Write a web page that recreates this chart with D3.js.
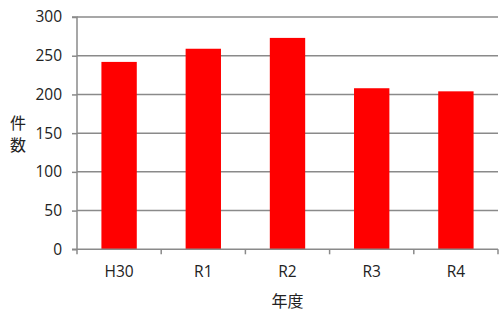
<!DOCTYPE html>
<html><head><meta charset="utf-8">
<script src="https://cdn.jsdelivr.net/npm/d3@7"></script>
<style>body{margin:0;background:#fff}svg{display:block}</style>
</head><body>
<script>
const categories = ["H30", "R1", "R2", "R3", "R4"];
const values = [242, 259, 273, 208, 204];
const yTicks = [0, 50, 100, 150, 200, 250, 300];
const yTitle = ["件", "数"];
const xTitle = "年度";

(function () {
const W = 499, H = 311;
const svg = d3.select("body").append("svg").attr("width", W).attr("height", H);
const mLeft = 77, mRight = 498, mTop = 17, mBottom = 249.3;
const x = d3.scaleBand().domain(categories).range([mLeft, mRight]).paddingInner(0.58).paddingOuter(0.29);
const xb = d3.scaleBand().domain(categories).range([mLeft, mRight]);
const y = d3.scaleLinear().domain([0, 300]).range([mBottom, mTop]);
const grey = "#8a8a8a";
const font = "'Open Sans', sans-serif";

// gridlines
svg.append("g").selectAll("line").data(yTicks.filter(d => d > 0)).join("line")
  .attr("x1", mLeft).attr("x2", mRight).attr("y1", d => y(d)).attr("y2", d => y(d))
  .attr("stroke", grey).attr("stroke-width", 1.5);

// bars
svg.append("g").selectAll("rect").data(values).join("rect")
  .attr("x", (d, i) => x(categories[i])).attr("width", x.bandwidth())
  .attr("y", d => y(d)).attr("height", d => y(0) - y(d)).attr("fill", "#ff0000");

// y axis
const ya = svg.append("g").attr("transform", `translate(${mLeft},0)`)
  .call(d3.axisLeft(y).tickValues(yTicks).tickSize(5).tickPadding(10));
ya.selectAll("path,line").attr("stroke", grey).attr("stroke-width", 1.5);
ya.select("path").attr("d", `M-5,${y(300)}H0V${y(0)}H-5`);
ya.selectAll("text").attr("font-family", font).attr("font-size", 15.5).attr("fill", "#222");

// x axis
const xa = svg.append("g").attr("transform", `translate(0,${mBottom})`)
  .call(d3.axisBottom(xb).tickSize(0).tickPadding(17));
xa.select("path").attr("stroke", grey).attr("stroke-width", 1.5).attr("d", `M${mLeft},0H${mRight}`);
xa.selectAll("text").attr("font-family", font).attr("font-size", 15.5).attr("fill", "#222");
// category boundary ticks
svg.append("g").selectAll("line").data(categories.concat(["end"])).join("line")
  .attr("x1", (d, i) => i < categories.length ? xb(d) : mRight)
  .attr("x2", (d, i) => i < categories.length ? xb(d) : mRight)
  .attr("y1", mBottom).attr("y2", mBottom + 5).attr("stroke", grey).attr("stroke-width", 1.5);

// titles
const yt = svg.append("text").attr("text-anchor", "middle")
  .attr("font-family", "'Noto Sans CJK JP', sans-serif").attr("font-size", 16).attr("fill", "#222");
yt.selectAll("tspan").data(yTitle).join("tspan")
  .attr("x", 18).attr("y", (d, i) => 123 + i * 22.5).attr("dy", "0.35em").text(d => d);
svg.append("text").attr("x", (xb("R2") + xb.bandwidth() / 2)).attr("y", 301).attr("dy", "0.35em")
  .attr("text-anchor", "middle").attr("font-family", "'Noto Sans CJK JP', sans-serif")
  .attr("font-size", 16).attr("fill", "#222").text(xTitle);
})();
</script>
</body></html>
